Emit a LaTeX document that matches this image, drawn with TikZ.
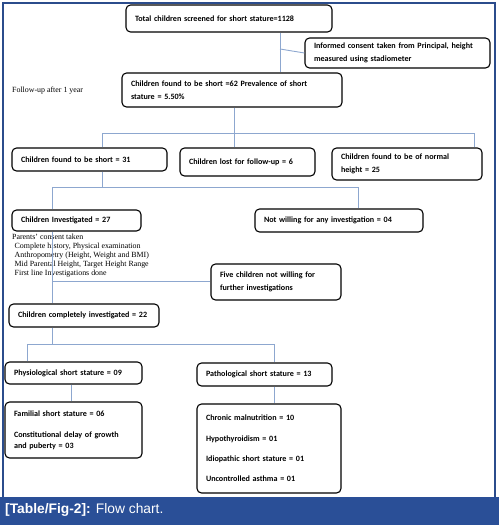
\documentclass[tikz,border=0pt]{standalone}
\usepackage{fontspec}
\setmainfont{Liberation Serif}
\newfontfamily\carl{Carlito}
\newfontfamily\arialf{Liberation Sans}
\definecolor{conncol}{HTML}{8DA7CF}
\definecolor{framecol}{HTML}{2B4C8C}
\definecolor{barcol}{HTML}{2A4F97}
\tikzset{
  box/.style={draw=black, line width=1.1pt, rounded corners=4.5pt, inner xsep=9pt, inner ysep=0pt,
    align=left, font=\carl\bfseries\fontsize{8.1}{12.5}\selectfont},
  conn/.style={draw=conncol, line width=0.9pt},
  serift/.style={font=\fontsize{7.9}{9}\selectfont, align=left, inner sep=0pt},
}
\newcommand{\mkbox}[7][]{%
  \pgfmathsetmacro\bw{#5-#3}\pgfmathsetmacro\bh{#6-#4}%
  \pgfmathsetmacro\bcx{(#3+#5)/2}\pgfmathsetmacro\bcy{(#4+#6)/2}%
  \pgfmathsetmacro\tw{#5-#3-18}%
  \node[box, minimum width=\bw pt, minimum height=\bh pt, text width=\tw pt, #1] (#2) at (\bcx,\bcy) {#7};}
\begin{document}
\begin{tikzpicture}[x=1pt,y=-1pt]
\useasboundingbox (0,0) rectangle (499,525);
% frame and caption bar
\fill[barcol] (0,497) rectangle (499,525);
\draw[framecol, line width=1.2pt] (3,497) -- (3,3) -- (495,3) -- (495,497);
\node[anchor=base west, inner sep=0pt, text=white, font=\arialf\fontsize{13.8}{15}\selectfont] (cap) at (5,513) {\textbf{[Table/Fig-2]:} Flow chart.};

% boxes
\mkbox{b1}{126}{5}{332}{32}{Total children screened for short stature=1128}
\mkbox{bi}{305}{38}{490}{68}{Informed consent taken from Principal, height\\measured using stadiometer}
\mkbox{b2}{122}{73}{342}{107}{Children found to be short =62 Prevalence of short\\stature = 5.50\%}
\mkbox{b3a}{12}{148}{167}{171}{Children found to be short = 31}
\mkbox{b3b}{180}{148}{315}{176}{Children lost for follow-up = 6}
\mkbox{b3c}{332}{148}{482}{180}{Children found to be of normal\\height = 25}
\mkbox{b4a}{12}{210}{141}{231}{Children Investigated = 27}
\mkbox{b4b}{255}{209}{423}{232}{Not willing for any investigation = 04}
\mkbox{b5f}{211}{264}{341}{300}{Five children not willing for\\further investigations}
\mkbox{b5}{9}{304}{159}{327}{Children completely investigated = 22}
\mkbox{b6a}{5}{362}{142}{384}{Physiological short stature = 09}
\mkbox{b6b}{197}{363}{332}{386}{Pathological short stature = 13}
\mkbox[font=\carl\bfseries\fontsize{8.1}{11}\selectfont]{b7a}{5}{402}{142}{458}{Familial short stature = 06\\[10pt]Constitutional delay of growth\\and puberty = 03}
\mkbox[font=\carl\bfseries\fontsize{8.1}{20.3}\selectfont]{b7b}{197}{404}{341}{493}{Chronic malnutrition = 10\\Hypothyroidism = 01\\Idiopathic short stature = 01\\Uncontrolled asthma = 01}

% free texts
\node[serift, anchor=base west] (fu) at (12,92) {Follow-up after 1 year};
\node[serift, anchor=north west] (pc) at (12,233.5) {Parents' consent taken\\
\hspace{2.5pt}Complete history, Physical examination\\
\hspace{2.5pt}Anthropometry (Height, Weight and BMI)\\
\hspace{2.5pt}Mid Parental Height, Target Height Range\\
\hspace{2.5pt}First line Investigations done};

% connectors
\coordinate (j1) at (280,49);
\draw[conn] (b1.south -| j1) -- (b2.north -| j1);
\draw[conn] (j1) -- (bi.west);

\coordinate (j2) at (234,133);
\coordinate (h2l) at (102,133);
\coordinate (h2r) at (474,133);
\draw[conn] (b2.south -| j2) -- (b3b.north -| j2);
\draw[conn] (b3a.north -| h2l) -- (h2l) -- (h2r) -- (b3c.north -| h2r);

\coordinate (j3) at (102,187);
\coordinate (h3l) at (52,187);
\coordinate (h3r) at (358,187);
\draw[conn] (b3a.south -| j3) -- (j3);
\draw[conn] (b4a.north -| h3l) -- (h3l) -- (h3r) -- (b4b.north -| h3r);

\coordinate (j4) at (52,281);
\draw[conn] (b4a.south -| j4) -- (b5.north -| j4);
\draw[conn] (j4) -- (b5f.west |- j4);

\coordinate (j5) at (52,344);
\coordinate (h5l) at (27,344);
\coordinate (h5r) at (274,344);
\draw[conn] (b5.south -| j5) -- (j5);
\draw[conn] (b6a.north -| h5l) -- (h5l) -- (h5r) -- (b6b.north -| h5r);

\coordinate (j6) at (71,393);
\draw[conn] (b6a.south -| j6) -- (b7a.north -| j6);
\coordinate (j7) at (274,395);
\draw[conn] (b6b.south -| j7) -- (b7b.north -| j7);
\end{tikzpicture}
\end{document}
